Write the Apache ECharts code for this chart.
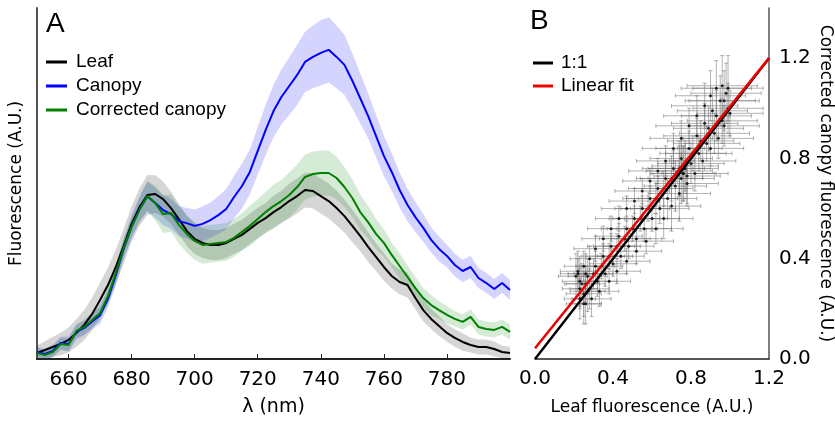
<!DOCTYPE html>
<html>
<head>
<meta charset="utf-8">
<script src="https://cdn.jsdelivr.net/npm/echarts@6/dist/echarts.min.js"></script>
<style>
html,body{margin:0;padding:0;background:#fff;}
#chart{width:835px;height:427px;}
</style>
</head>
<body>
<div id="chart"></div>
<script>
// ---------- Panel A data ----------
const wavelength = [650,652.5,655,657.5,660,662.5,665,667.5,670,672.5,675,677.5,680,682.5,685,687.5,690,692.5,695,697.5,700,702.5,705,707.5,710,712.5,715,717.5,720,722.5,725,727.5,730,732.5,735,737.5,740,742.5,745,747.5,750,752.5,755,757.5,760,762.5,765,767.5,770,772.5,775,777.5,780,782.5,785,787.5,790,792.5,795,797.5,800];
const leaf = [0.024,0.036,0.048,0.060,0.076,0.104,0.136,0.180,0.235,0.295,0.367,0.451,0.539,0.606,0.654,0.658,0.638,0.602,0.558,0.511,0.479,0.463,0.455,0.455,0.463,0.479,0.495,0.519,0.543,0.562,0.586,0.606,0.630,0.650,0.674,0.670,0.650,0.630,0.602,0.570,0.531,0.491,0.447,0.407,0.367,0.331,0.307,0.295,0.243,0.195,0.160,0.132,0.104,0.084,0.068,0.056,0.048,0.048,0.040,0.028,0.024];
const canopy = [0.028,0.020,0.032,0.064,0.060,0.108,0.124,0.150,0.175,0.240,0.335,0.440,0.527,0.598,0.648,0.622,0.594,0.578,0.550,0.542,0.531,0.539,0.554,0.574,0.598,0.646,0.690,0.746,0.830,0.913,0.989,1.045,1.089,1.133,1.185,1.205,1.221,1.233,1.205,1.173,1.110,1.040,0.970,0.890,0.810,0.746,0.674,0.614,0.566,0.523,0.475,0.439,0.411,0.375,0.351,0.367,0.323,0.303,0.279,0.303,0.275];
const corrected = [0.024,0.016,0.028,0.060,0.056,0.112,0.128,0.156,0.183,0.251,0.343,0.443,0.527,0.594,0.650,0.622,0.578,0.582,0.535,0.499,0.471,0.455,0.459,0.463,0.467,0.483,0.507,0.531,0.558,0.586,0.610,0.630,0.654,0.686,0.726,0.738,0.742,0.742,0.722,0.686,0.642,0.586,0.546,0.499,0.463,0.415,0.371,0.327,0.283,0.243,0.215,0.195,0.176,0.160,0.148,0.168,0.128,0.120,0.116,0.128,0.108];
const leafSd = [0.03,0.035,0.04,0.045,0.05, 0.055,0.06,0.065,0.07,0.07,0.07,0.07,0.07, 0.075,0.08,0.075,0.07,0.065,0.06,0.06,0.06, 0.06,0.06,0.06,0.06,0.06,0.06,0.06,0.06, 0.06,0.065,0.065,0.07,0.07,0.07,0.07,0.07, 0.07,0.07,0.065,0.065,0.06,0.06,0.055,0.055, 0.05,0.05,0.05,0.045,0.045,0.04,0.04,0.035, 0.035,0.035,0.03,0.03,0.03,0.03,0.025,0.025];
const canopySd = [0.02,0.02,0.025,0.025,0.03, 0.03,0.03,0.03,0.035,0.035,0.04,0.04,0.045, 0.05,0.06,0.06,0.06,0.06,0.06,0.06,0.065, 0.07,0.07,0.075,0.08,0.085,0.09,0.09,0.095, 0.1,0.105,0.11,0.115,0.12,0.12,0.125,0.13, 0.13,0.125,0.12,0.11,0.1,0.09,0.085,0.08, 0.075,0.07,0.065,0.06,0.055,0.05,0.05,0.045, 0.045,0.045,0.045,0.04,0.04,0.04,0.04,0.04];
const correctedSd = [0.02,0.02,0.02,0.025,0.025, 0.025,0.03,0.03,0.03,0.035,0.035,0.04,0.04, 0.05,0.06,0.07,0.075,0.075,0.075,0.075,0.075, 0.075,0.075,0.075,0.075,0.075,0.075,0.08,0.08, 0.08,0.085,0.085,0.09,0.09,0.09,0.09,0.09, 0.09,0.085,0.08,0.075,0.07,0.065,0.06,0.055, 0.05,0.05,0.045,0.045,0.04,0.04,0.035,0.035, 0.03,0.03,0.03,0.03,0.03,0.03,0.03,0.03];
const wlTicks = [660,680,700,720,740,760,780];

// ---------- Panel B data ----------
const leafX = [
 0.22,0.25,0.28,0.31,0.35,0.39,0.43,0.47,0.51,0.55,0.59,0.63,0.67,0.71,0.75,0.79,0.83,0.87,0.90,0.93,0.96,0.99,
 0.24,0.27,0.31,0.35,0.39,0.43,0.47,0.51,0.55,0.59,0.63,0.67,0.71,0.75,0.79,0.83,0.87,0.91,0.95,0.98,
 0.25,0.28,0.32,0.36,0.40,0.44,0.48,0.52,0.56,0.60,0.64,0.68,0.72,0.76,0.80,0.84,0.88,0.92,0.96,0.99,
 0.25,0.29,0.33,0.38,0.42,0.47,0.52,0.57,0.62,0.66,0.70,0.74,0.78,0.82,0.86,0.90,0.94,0.97,1.00,
 0.23,0.26,0.30,0.34,0.38,0.42,0.46,0.50,0.54,0.58,0.62,0.66,0.70,0.74,0.77,0.81,0.85,0.89,0.93,0.97,
 0.21,0.23,0.22,0.26,0.23,0.26,0.27,
 0.74,0.76,0.77,0.78,0.75];
const canopyY = [
 0.34,0.37,0.40,0.44,0.48,0.52,0.56,0.60,0.63,0.67,0.71,0.75,0.79,0.84,0.88,0.93,0.97,1.01,1.05,1.08,1.09,1.08,
 0.30,0.33,0.37,0.41,0.45,0.49,0.52,0.56,0.60,0.64,0.68,0.72,0.76,0.80,0.84,0.89,0.94,0.99,1.03,1.06,
 0.26,0.28,0.31,0.34,0.38,0.41,0.45,0.48,0.52,0.56,0.60,0.64,0.69,0.74,0.78,0.82,0.86,0.90,0.95,1.00,
 0.22,0.24,0.27,0.31,0.35,0.39,0.43,0.47,0.52,0.56,0.61,0.66,0.70,0.74,0.79,0.84,0.88,0.93,0.98,
 0.28,0.30,0.34,0.37,0.41,0.45,0.48,0.52,0.56,0.60,0.64,0.68,0.72,0.76,0.77,0.82,0.87,0.92,0.97,1.03,
 0.33,0.31,0.35,0.34,0.24,0.22,0.27,
 0.75,0.74,0.76,0.73,0.72];
const leafErr = [
 0.09,0.10,0.10,0.11,0.11,0.12,0.12,0.13,0.13,0.14,0.14,0.15,0.15,0.16,0.16,0.17,0.17,0.17,0.18,0.18,0.18,0.18,
 0.09,0.10,0.10,0.11,0.12,0.12,0.13,0.13,0.14,0.14,0.15,0.15,0.16,0.16,0.17,0.17,0.17,0.18,0.18,0.18,
 0.09,0.10,0.10,0.11,0.12,0.12,0.13,0.13,0.14,0.14,0.15,0.15,0.16,0.16,0.17,0.17,0.17,0.18,0.18,0.18,
 0.09,0.10,0.10,0.11,0.12,0.12,0.13,0.14,0.14,0.15,0.15,0.16,0.16,0.17,0.17,0.17,0.18,0.18,0.17,
 0.09,0.10,0.10,0.11,0.12,0.12,0.13,0.13,0.14,0.14,0.15,0.15,0.16,0.16,0.17,0.17,0.17,0.18,0.18,0.18,
 0.09,0.09,0.09,0.09,0.08,0.08,0.09,
 0.17,0.17,0.17,0.17,0.17];
const canopyErr = [
 0.06,0.06,0.05,0.05,0.05,0.05,0.05,0.05,0.05,0.05,0.05,0.05,0.06,0.06,0.07,0.07,0.08,0.09,0.10,0.11,0.12,0.13,
 0.08,0.07,0.06,0.05,0.05,0.05,0.05,0.05,0.05,0.05,0.05,0.06,0.07,0.08,0.07,0.07,0.08,0.09,0.10,0.12,
 0.09,0.08,0.06,0.05,0.05,0.05,0.05,0.05,0.05,0.05,0.06,0.08,0.10,0.11,0.08,0.07,0.07,0.08,0.09,0.10,
 0.08,0.07,0.06,0.05,0.05,0.05,0.05,0.05,0.06,0.08,0.10,0.11,0.09,0.07,0.07,0.07,0.08,0.08,0.09,
 0.08,0.07,0.06,0.05,0.05,0.05,0.05,0.05,0.05,0.05,0.06,0.07,0.09,0.11,0.10,0.07,0.08,0.09,0.10,0.12,
 0.09,0.10,0.08,0.08,0.08,0.08,0.08,
 0.10,0.11,0.10,0.11,0.10];
const oneX = [0, 1.2], oneY = [0, 1.2];
const fitX = [0, 1.2], fitY = [0.043, 1.2];
const bTicks = [0, 0.4, 0.8, 1.2];

// ---------- build ----------
const pairs = (xs, ys) => xs.map((x, i) => [x, ys[i]]);

function band(vals, sd, color) {
  const data = wavelength.map((w, i) => [w, vals[i] - sd[i], vals[i] + sd[i]]);
  return {type: 'custom', xAxisIndex: 0, yAxisIndex: 0, z: 1, silent: true, clip: true,
    encode: {x: 0, y: [1, 2]}, data: data,
    renderItem: function (params, api) {
      if (params.dataIndex !== 0) return null;
      const up = data.map(d => api.coord([d[0], d[2]]));
      const lo = data.map(d => api.coord([d[0], d[1]])).reverse();
      return {type: 'polygon', shape: {points: up.concat(lo)}, style: {fill: color}};
    }};
}
function mainLine(name, vals, color) {
  return {name: name, type: 'line', xAxisIndex: 0, yAxisIndex: 0, symbol: 'none', color: color,
    lineStyle: {color: color, width: 2}, data: pairs(wavelength, vals), z: 3};
}

const tickFont = {fontSize: 20, color: '#000', fontFamily: 'DejaVu Sans'};
const nameFont = {fontSize: 17, color: '#000', fontFamily: 'DejaVu Sans'};

const option = {
  animation: false,
  backgroundColor: '#fff',
  grid: [
    {left: 34, right: 325, top: 8, bottom: 68},
    {left: 535, right: 64, top: 8, bottom: 68}
  ],
  xAxis: [
    {gridIndex: 0, type: 'value', min: 650, max: 800,
     axisLine: {show: true, onZero: false, lineStyle: {color: '#222', width: 2}},
     axisTick: {show: true, inside: true, length: 5, customValues: wlTicks, lineStyle: {color: '#222', width: 1}},
     axisLabel: Object.assign({customValues: wlTicks, margin: 11}, tickFont),
     splitLine: {show: false},
     name: 'λ (nm)', nameLocation: 'middle', nameGap: 39,
     nameTextStyle: Object.assign({}, nameFont, {fontSize: 19})},
    {gridIndex: 1, type: 'value', min: 0, max: 1.2, interval: 0.4,
     axisLine: {show: true, onZero: false, lineStyle: {color: '#222', width: 1.5}},
     axisTick: {show: false},
     axisLabel: Object.assign({margin: 10, formatter: v => v.toFixed(1)}, tickFont),
     splitLine: {show: false},
     name: 'Leaf fluorescence (A.U.)', nameLocation: 'middle', nameGap: 40, nameTextStyle: nameFont}
  ],
  yAxis: [
    {gridIndex: 0, type: 'value', min: 0, max: 1.4,
     axisLine: {show: true, onZero: false, lineStyle: {color: '#555', width: 2}},
     axisTick: {show: false}, axisLabel: {show: false}, splitLine: {show: false},
     name: 'Fluorescence (A.U.)', nameLocation: 'middle', nameGap: 12, nameRotate: 90, nameTextStyle: nameFont},
    {gridIndex: 1, type: 'value', position: 'right', min: 0, max: 1.4,
     axisLine: {show: true, onZero: false, lineStyle: {color: '#555', width: 1.5}},
     axisTick: {show: false},
     axisLabel: Object.assign({customValues: bTicks, margin: 10, formatter: v => v.toFixed(1)}, tickFont),
     splitLine: {show: false},
     name: 'Corrected canopy fluorescence (A.U.)', nameLocation: 'middle', nameGap: 48, nameRotate: -90,
     nameTextStyle: nameFont}
  ],
  legend: [
    {data: ['Leaf', 'Canopy', 'Corrected canopy'], orient: 'vertical', left: 46, top: 52, padding: 0,
     icon: 'rect', itemWidth: 21, itemHeight: 3, itemGap: 4, selectedMode: false,
     textStyle: {fontSize: 19, fontFamily: 'Liberation Sans', color: '#000', lineHeight: 20, padding: [0, 0, 0, 4]}},
    {data: ['1:1', 'Linear fit'], orient: 'vertical', left: 533, top: 53, padding: 0,
     icon: 'rect', itemWidth: 20, itemHeight: 3, itemGap: 3, selectedMode: false,
     textStyle: {fontSize: 19, fontFamily: 'Liberation Sans', color: '#000', lineHeight: 20, padding: [0, 0, 0, 3]}}
  ],
  graphic: [
    {type: 'text', left: 46, top: 10, style: {text: 'A', font: '28px "Liberation Sans"', fill: '#000'}},
    {type: 'text', left: 530, top: 7, style: {text: 'B', font: '28px "Liberation Sans"', fill: '#000'}}
  ],
  series: [
    band(leaf, leafSd, 'rgba(0,0,0,0.16)'),
    band(canopy, canopySd, 'rgba(0,0,255,0.17)'),
    band(corrected, correctedSd, 'rgba(0,128,0,0.16)'),
    mainLine('Leaf', leaf, '#000000'),
    mainLine('Canopy', canopy, '#0000ff'),
    mainLine('Corrected canopy', corrected, '#008000'),
    {type: 'custom', name: 'errors', xAxisIndex: 1, yAxisIndex: 1, z: 2, silent: true, clip: true,
     encode: {x: 0, y: 1},
     data: leafX.map((x, i) => [x, canopyY[i], leafErr[i], canopyErr[i]]),
     renderItem: function (params, api) {
       const x = api.value(0), y = api.value(1), ex = api.value(2), ey = api.value(3);
       const a = api.coord([x - ex, y]), b = api.coord([x + ex, y]);
       const c = api.coord([x, y + ey]), d = api.coord([x, y - ey]);
       const st = {stroke: 'rgba(115,115,115,0.55)', lineWidth: 1};
       const k = 2;
       return {type: 'group', children: [
         {type: 'line', shape: {x1: a[0], y1: a[1], x2: b[0], y2: b[1]}, style: st},
         {type: 'line', shape: {x1: c[0], y1: c[1], x2: d[0], y2: d[1]}, style: st},
         {type: 'line', shape: {x1: a[0], y1: a[1] - k, x2: a[0], y2: a[1] + k}, style: st},
         {type: 'line', shape: {x1: b[0], y1: b[1] - k, x2: b[0], y2: b[1] + k}, style: st},
         {type: 'line', shape: {x1: c[0] - k, y1: c[1], x2: c[0] + k, y2: c[1]}, style: st},
         {type: 'line', shape: {x1: d[0] - k, y1: d[1], x2: d[0] + k, y2: d[1]}, style: st}
       ]};
     }},
    {type: 'scatter', name: 'points', xAxisIndex: 1, yAxisIndex: 1, symbolSize: 3, z: 3, silent: true,
     itemStyle: {color: '#000'}, data: pairs(leafX, canopyY)},
    {type: 'line', name: '1:1', xAxisIndex: 1, yAxisIndex: 1, symbol: 'none', color: '#000', z: 4,
     lineStyle: {color: '#000', width: 2.5}, data: pairs(oneX, oneY)},
    {type: 'line', name: 'Linear fit', xAxisIndex: 1, yAxisIndex: 1, symbol: 'none', color: '#ee0000', z: 5,
     lineStyle: {color: '#ee0000', width: 2.5}, data: pairs(fitX, fitY)}
  ]
};
const chart = echarts.init(document.getElementById('chart'), null, {renderer: 'canvas'});
chart.setOption(option);
</script>
</body>
</html>
